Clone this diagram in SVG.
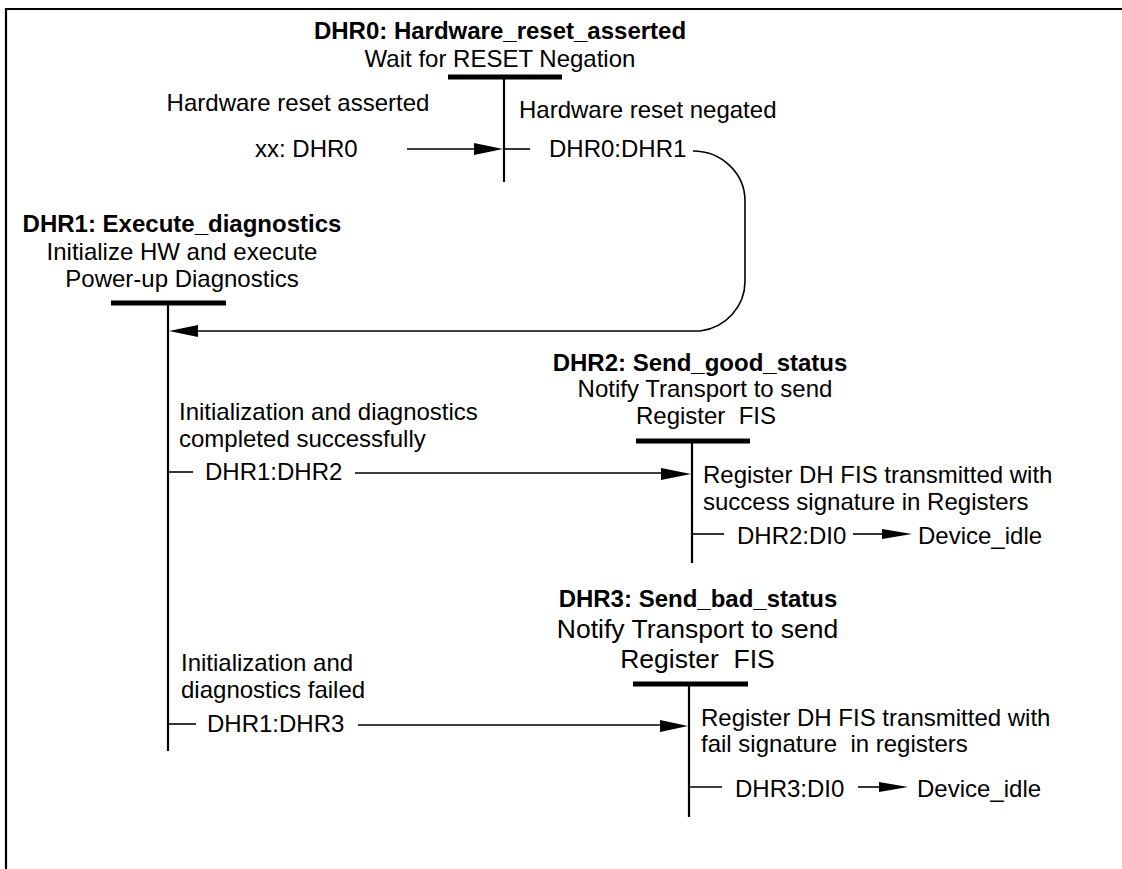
<svg xmlns="http://www.w3.org/2000/svg" width="1122" height="869" viewBox="0 0 1122 869">
<defs>
<style>
text{font-family:"Liberation Sans",Arial,sans-serif;font-size:24px;fill:#000;white-space:pre}
.b{font-weight:bold}
.m{text-anchor:middle}
.big{font-size:26.5px}
.ln{stroke:#000;stroke-width:1.6;fill:none}
.v{stroke:#000;stroke-width:2.2;fill:none}
.bar{fill:#000}
.ah{fill:#000}
</style>
</defs>
<rect width="1122" height="869" fill="#fff"/>
<path d="M6 869 V9 H1122" stroke="#000" stroke-width="2.2" fill="none"/>

<g id="DHR0">
<text class="b m" x="500" y="39">DHR0: Hardware_reset_asserted</text>
<text class="m" x="500" y="67">Wait for RESET Negation</text>
<rect class="bar" x="448" y="74.5" width="114" height="5"/>
<line class="v" x1="504" y1="77" x2="504" y2="182"/>
</g>

<g id="DHR1">
<text class="b m" x="182" y="232">DHR1: Execute_diagnostics</text>
<text class="m" x="182" y="260">Initialize HW and execute</text>
<text class="m" x="182" y="287">Power-up Diagnostics</text>
<rect class="bar" x="111" y="300.5" width="115" height="5"/>
<line class="v" x1="168" y1="303" x2="168" y2="751"/>
</g>

<g id="DHR2">
<text class="b m" x="700" y="371">DHR2: Send_good_status</text>
<text class="m" x="705" y="397">Notify Transport to send</text>
<text class="m" x="706" y="424" xml:space="preserve">Register  FIS</text>
<rect class="bar" x="636" y="438.5" width="114" height="5"/>
<line class="v" x1="692" y1="441" x2="692" y2="563"/>
</g>

<g id="DHR3">
<text class="b m" x="698" y="607">DHR3: Send_bad_status</text>
<text class="m big" x="697.5" y="638">Notify Transport to send</text>
<text class="m big" x="697.5" y="668" xml:space="preserve">Register  FIS</text>
<rect class="bar" x="633" y="681.5" width="115" height="5"/>
<line class="v" x1="689" y1="684" x2="689" y2="817"/>
</g>

<g id="connectors">
<text x="298" y="111" class="m">Hardware reset asserted</text>
<text x="255" y="157">xx: DHR0</text>
<line class="ln" x1="407" y1="149" x2="476" y2="149"/>
<polygon class="ah" points="503,149 474,143 474,155"/>

<text x="519" y="118">Hardware reset negated</text>
<line class="ln" x1="504" y1="149" x2="530" y2="149"/>
<text x="549" y="157">DHR0:DHR1</text>
<path class="ln" d="M693 151 A52 50 0 0 1 745 201 L745 281 A52 50 0 0 1 700 331 L196 331"/>
<polygon class="ah" points="169,331 198,325 198,337"/>

<text x="179" y="420">Initialization and diagnostics</text>
<text x="179" y="447">completed successfully</text>
<line class="ln" x1="168" y1="472" x2="193" y2="472"/>
<text x="205" y="480">DHR1:DHR2</text>
<line class="ln" x1="355" y1="473" x2="664" y2="473"/>
<polygon class="ah" points="691,474 661,468 661,480"/>

<text x="703" y="483">Register DH FIS transmitted with</text>
<text x="703" y="510">success signature in Registers</text>
<line class="ln" x1="692" y1="534" x2="724" y2="534"/>
<text x="737" y="544">DHR2:DI0</text>
<line class="ln" x1="853" y1="534" x2="884" y2="534"/>
<polygon class="ah" points="912,534 882,529 882,539"/>
<text x="918" y="544">Device_idle</text>

<text x="181" y="671">Initialization and</text>
<text x="181" y="698">diagnostics failed</text>
<line class="ln" x1="168" y1="724" x2="196" y2="724"/>
<text x="207" y="732">DHR1:DHR3</text>
<line class="ln" x1="358" y1="725" x2="662" y2="725"/>
<polygon class="ah" points="688,726 660,720 660,732"/>

<text x="701" y="726">Register DH FIS transmitted with</text>
<text x="701" y="752" xml:space="preserve">fail signature  in registers</text>
<line class="ln" x1="689" y1="787" x2="722" y2="787"/>
<text x="735" y="797">DHR3:DI0</text>
<line class="ln" x1="858" y1="787" x2="882" y2="787"/>
<polygon class="ah" points="908,787 879,782 879,792"/>
<text x="917" y="797">Device_idle</text>
</g>
</svg>
